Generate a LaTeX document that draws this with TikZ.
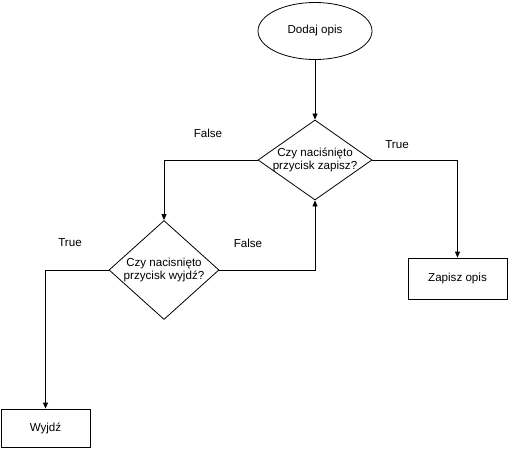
\documentclass[tikz,border=0pt]{standalone}
\usepackage{fontspec}
\setmainfont{Liberation Sans}
\usetikzlibrary{shapes.geometric,arrows.meta}
\begin{document}
\begin{tikzpicture}[
x=1pt,y=-1pt,
every node/.style={font=\fontsize{11.6}{13.5}\selectfont,draw,line width=0.8pt,align=center},
startnode/.style={ellipse,minimum width=114pt,minimum height=57pt},
question/.style={diamond,inner sep=-12pt,minimum width=114pt,minimum height=80pt},
action/.style={rectangle,minimum width=99pt,minimum height=41pt},
lbl/.style={draw=none},
flow/.style={-{Triangle[length=6pt,width=5pt]},line width=0.8pt}
]
\useasboundingbox (0,0) rectangle (508,449);
\node[startnode] (start) at (315,31) {Dodaj opis};
\node[question] (save?) at (315,160) {Czy naciśnięto\\przycisk zapisz?};
\node[question,minimum width=110pt,minimum height=99pt] (quit?) at (164,270) {Czy nacisnięto\\przycisk wyjdź?};
\node[action] (save) at (457.5,278.5) {Zapisz opis};
\node[action,minimum width=89pt,minimum height=38pt] (quit) at (45.5,428) {Wyjdź};
\node[lbl] (f1) at (208,133) {False};
\node[lbl] (t1) at (397,145) {True};
\node[lbl] (t2) at (70,243) {True};
\node[lbl] (f2) at (248,243) {False};
\draw[flow] (start)--(save?);
\draw[flow] (save?.west)-|(quit?.north);
\draw[flow] (save?.east)-|(save.north);
\draw[flow] (quit?.west)-|(quit.north);
\draw[flow] (quit?.east)-|(save?.south);
\end{tikzpicture}
\end{document}
